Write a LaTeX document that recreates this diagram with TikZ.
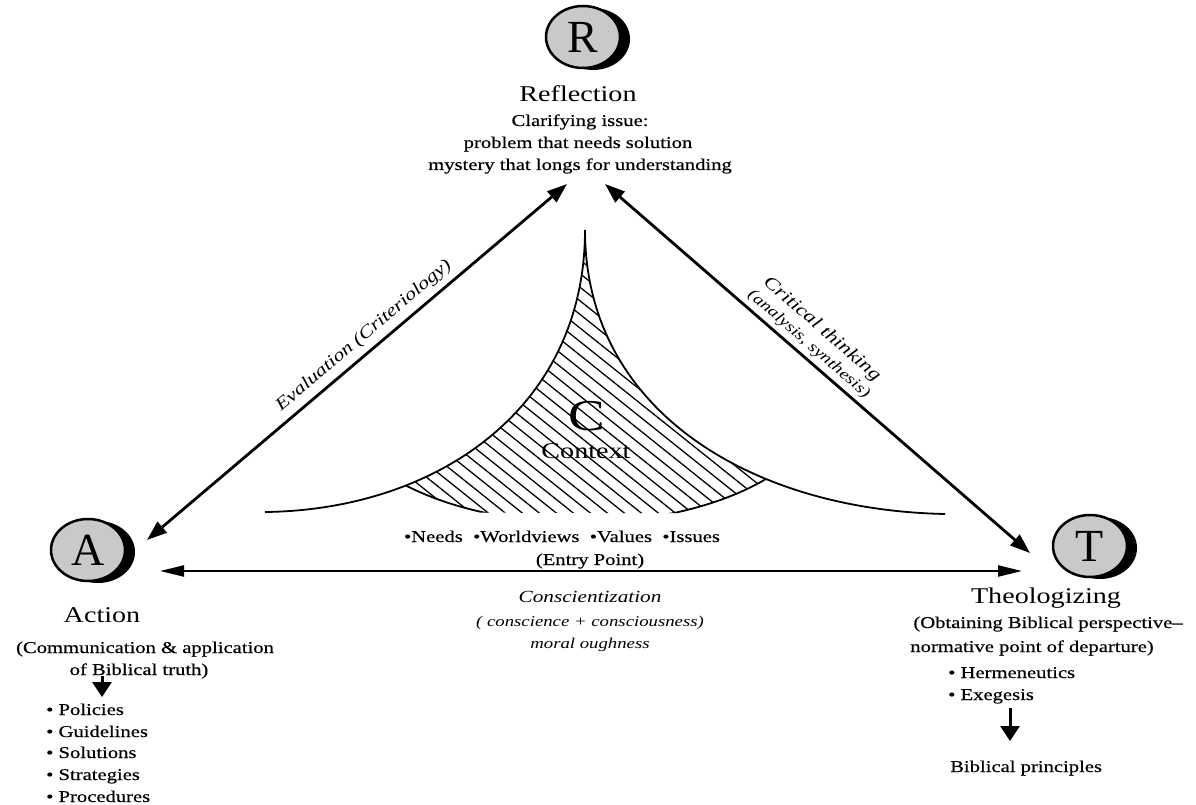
\documentclass[tikz,border=0pt]{standalone}
\usepackage{fontspec}
\setmainfont{Liberation Serif}[FakeStretch=1.25]
\newfontfamily\medfont{Liberation Serif}[FakeStretch=1.25, FakeBold=0.5]
\newfontfamily\letterfont{Liberation Serif}
\usetikzlibrary{arrows.meta,shapes.geometric,shadows}
\newcommand{\bigtxt}{\fontsize{22.5}{26}\selectfont}
\newcommand{\medtxt}{\medfont\fontsize{16.5}{22}\selectfont}
\newcommand{\lettertxt}{\letterfont\fontsize{46}{46}\selectfont}
\tikzset{
  icon/.style={ellipse, draw, line width=2.5pt, fill=gray!42, minimum width=74pt,
    minimum height=62pt, inner sep=0pt, font=\lettertxt,
    drop shadow={shadow xshift=10pt, shadow yshift=-2pt, opacity=1, fill=black}},
  bigl/.style={anchor=base, font=\bigtxt, inner sep=0pt},
  medl/.style={anchor=base, font=\medtxt, inner sep=0pt},
  medleft/.style={anchor=base west, font=\medtxt, inner sep=0pt},
  diagarrow/.style={line width=2.8pt, {Triangle[length=20pt,width=14pt]}-{Triangle[length=20pt,width=14pt]}},
  horarrow/.style={line width=2.2pt, {Triangle[length=24pt,width=11pt]}-{Triangle[length=24pt,width=11pt]}},
  downarrow/.style={line width=3pt, -{Triangle[length=15pt,width=19pt]}},
  edgelab/.style={font=\fontsize{17.5}{19}\selectfont\itshape, inner sep=1pt},
  curve/.style={line width=1.8pt},
  hatch/.style={line width=1.3pt}
}
\begin{document}
\begin{tikzpicture}[x=1pt,y=-1pt]
\useasboundingbox (0,0) rectangle (1196,805);
% icons
\node[icon] (R) at (583,37) {R};
\node[icon] (A) at (88,550) {A};
\node[icon] (T) at (1090,546) {T};
% Reflection texts
\node[bigl] (reft) at (578,102) {Reflection};
\node[medl] (ref1) at (580,126) {Clarifying issue:};
\node[medl] (ref2) at (578,148) {problem that needs solution};
\node[medl] (ref3) at (580,170) {mystery that longs for understanding};
% Action texts
\node[bigl] (actt) at (102,622) {Action};
\node[medl] (act1) at (145,653) {(Communication \& application};
\node[medl] (act2) at (139,675) {of Biblical truth)};
\coordinate (actarrs) at (102,676);
\coordinate (actarre) at (102,697);
\draw[downarrow] (actarrs) -- (actarre);
\node[medleft] (p1) at (46,715) {• Policies};
\node[medleft] (p2) at (46,737) {• Guidelines};
\node[medleft] (p3) at (46,758) {• Solutions};
\node[medleft] (p4) at (46,780) {• Strategies};
\node[medleft] (p5) at (46,802) {• Procedures};
% Theologizing texts
\node[bigl] (theot) at (1046,603) {Theologizing};
\node[medl] (theo1) at (1048,628) {(Obtaining Biblical perspective–};
\node[medl] (theo2) at (1032,652) {normative point of departure)};
\node[medleft] (h1) at (948,678) {• Hermeneutics};
\node[medleft] (h2) at (948,700) {• Exegesis};
\coordinate (thearrs) at (1010,708);
\coordinate (thearre) at (1010,741);
\draw[downarrow] (thearrs) -- (thearre);
\node[medleft] (bp) at (950,772) {Biblical principles};
% Context shape
\begin{scope}
  \clip (265,512) .. controls (435,510) and (585,410) .. (585,230)
        .. controls (585,410) and (750,510) .. (945,514) -- cycle;
  \clip (380,470) .. controls (480,540) and (680,540) .. (780,470) -- (780,200) -- (380,200) -- cycle;
  \foreach \k in {0,...,50} {
    \draw[hatch] ({-150+17*\k},220) -- ++(400,320);
  }
\end{scope}
\begin{scope}
  \clip (265,512) .. controls (435,510) and (585,410) .. (585,230)
        .. controls (585,410) and (750,510) .. (945,514) -- cycle;
  \draw[curve] (380,470) .. controls (480,540) and (680,540) .. (780,470);
\end{scope}
\draw[curve] (265,512) .. controls (435,510) and (585,410) .. (585,230);
\draw[curve] (585,230) .. controls (585,410) and (750,510) .. (945,514);
\node[anchor=base, font=\fontsize{44}{44}\selectfont, inner sep=0pt] (C) at (587,430) {C};
\node[bigl] (ctx) at (586,458) {Context};
\node[medl] (needs) at (562,542) {•Needs\ \ •Worldviews\ \ •Values\ \ •Issues};
\node[medl] (entry) at (590,565) {(Entry Point)};
% connectors
\coordinate (rl) at (567,184);
\coordinate (rr) at (605,184);
\coordinate (at) at (147,540);
\coordinate (ar) at (160,571);
\coordinate (tl) at (1022,571);
\coordinate (tt) at (1030,553);
\draw[diagarrow] (rl) -- node[pos=0.46, sloped, above=5pt, edgelab] {Evaluation (Criteriology)} (at);
\draw[diagarrow] (rr)
  -- node[pos=0.46, sloped, above=22pt, edgelab, font=\fontsize{18}{19}\selectfont\itshape] {Critical thinking}
     node[pos=0.46, sloped, above=3pt, edgelab, font=\fontsize{15.5}{17}\selectfont\itshape] {(analysis, synthesis)} (tt);
\draw[horarrow] (ar) -- (tl);
\node[anchor=base, font=\fontsize{17}{20}\selectfont\itshape, inner sep=0pt] (cons) at (590,602) {Conscientization};
\node[anchor=base, font=\fontsize{15}{18}\selectfont\itshape, inner sep=0pt] (cons2) at (590,626) {( conscience + consciousness)};
\node[anchor=base, font=\fontsize{15}{18}\selectfont\itshape, inner sep=0pt] (cons3) at (590,648) {moral oughness};
\end{tikzpicture}
\end{document}
